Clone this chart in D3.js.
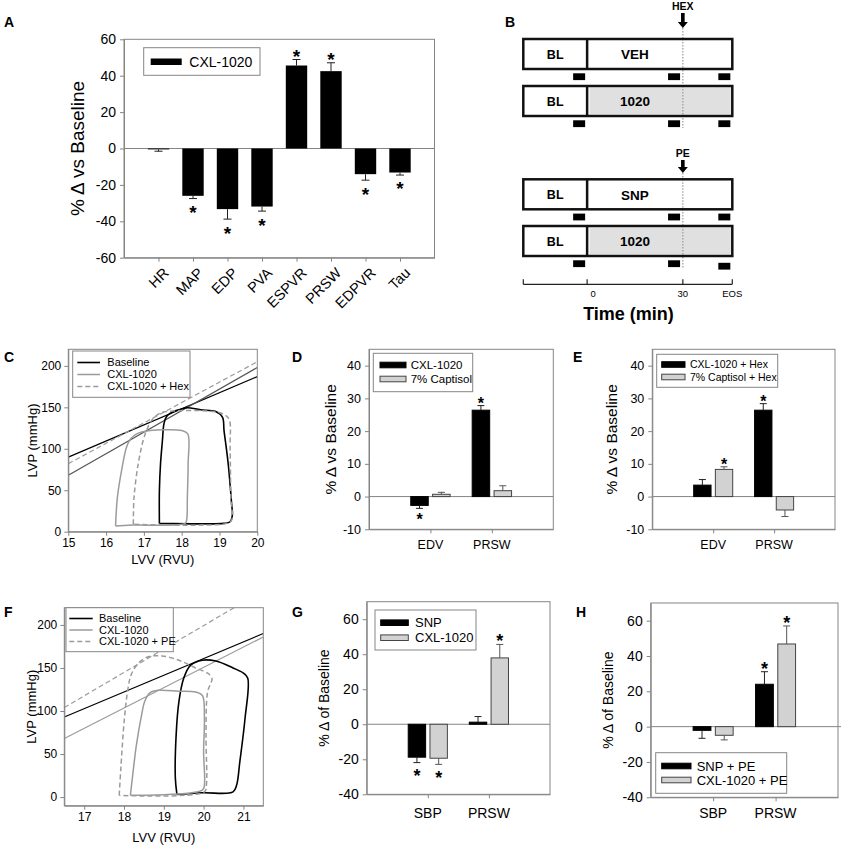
<!DOCTYPE html>
<html><head><meta charset="utf-8">
<script src="https://cdn.jsdelivr.net/npm/d3@7"></script>
<style>
body{margin:0;background:#fff;}
svg{display:block;font-family:"Liberation Sans",Arial,sans-serif;}
</style></head><body>
<svg id="fig" width="844" height="847"></svg>
<script>
// ================= DATA =================
// Panel A
const aCategories = ["HR","MAP","EDP","PVA","ESPVR","PRSW","EDPVR","Tau"];
const aSeries = ["CXL-1020"];
const aValues = [-0.5,-26.0,-33.3,-31.9,45.6,42.5,-14.1,-13.2];
const aErrors = [1.0,1.5,5.5,2.5,3.3,4.6,3.3,1.4];
const aSignificant = [false,true,true,true,true,true,true,true];
const aYTicks = [-60,-40,-20,0,20,40,60];

// Panel B (protocol schematic)
const bRowBaseline = ["BL","BL","BL","BL"];
const bRowTreatment = ["VEH","1020","SNP","1020"];
const bRowFilled = [false,true,false,true];
const bSampleTimes = [-2.5,27.25,43];
const bEventLabels = ["HEX","PE"];
const bEventTime = 30;
const bTickTimes = [-20,0,30,45.5];
const bTickLabels = ["","0","30","EOS"];

// Panel C (PV loops)
const cSeries = ["Baseline","CXL-1020","CXL-1020 + Hex"];
const cLoopBaseline = [[17.41,10],[17.41,50],[17.44,82],[17.49,110],[17.53,130],[17.6,139],[17.78,145],[18.0,148],[18.15,149.5],[18.5,147],[18.9,145],[19.08,138],[19.12,122],[19.23,82],[19.32,34],[19.34,20],[19.28,12],[19.1,10],[18.5,9.5],[17.41,10]];
const cLoopCxl = [[16.25,7],[16.3,42],[16.41,74],[16.54,102],[16.65,112],[16.81,118],[17.16,122],[17.6,123],[18.0,122],[18.16,118],[18.17,82],[18.15,42],[18.13,14],[18.09,10],[16.72,8],[16.25,7]];
const cLoopHex = [[16.72,9],[16.74,42],[16.85,82],[16.98,110],[17.07,122],[17.2,134],[17.43,143],[17.6,145],[18.84,145],[19.14,141],[19.26,135],[19.28,102],[19.3,42],[19.32,14],[19.19,10],[16.72,9]];
const cEspvrBaseline = [[15,90],[20,187]];
const cEspvrCxl = [[15,68],[20,198]];
const cEspvrHex = [[15,82],[20,205]];
const cXTicks = [15,16,17,18,19,20];
const cYTicks = [0,50,100,150,200];

// Panel D
const dCategories = ["EDV","PRSW"];
const dSeries = ["CXL-1020","7% Captisol"];
const dValues = [[-2.7,0.7],[26.4,1.8]];
const dErrors = [[0.9,0.6],[1.4,1.5]];
const dSignificant = [[true,false],[true,false]];
const dYTicks = [-10,0,10,20,30,40];

// Panel E
const eCategories = ["EDV","PRSW"];
const eSeries = ["CXL-1020 + Hex","7% Captisol + Hex"];
const eValues = [[3.5,8.3],[26.4,-4.1]];
const eErrors = [[1.7,0.8],[2.0,2.0]];
const eSignificant = [[false,true],[true,false]];
const eYTicks = [-10,0,10,20,30,40];

// Panel F (PV loops)
const fSeries = ["Baseline","CXL-1020","CXL-1020 + PE"];
const fLoopBaseline = [[19.33,3],[19.29,22],[19.31,72],[19.38,111],[19.5,138],[19.67,153],[19.97,159],[20.31,158],[20.74,150],[21.0,144],[21.11,138],[21.04,91],[20.91,41],[20.83,14],[20.74,6],[19.97,5],[19.33,3]];
const fLoopCxl = [[18.16,2],[18.22,26],[18.31,60],[18.44,95],[18.52,111],[18.65,121],[18.86,124],[19.38,123],[19.8,122],[19.97,118],[20.02,91],[20.0,53],[20.02,14],[19.97,8],[18.16,2]];
const fLoopPe = [[17.88,2],[17.92,33],[18.01,91],[18.1,126],[18.18,142],[18.35,155],[18.61,163],[18.95,164],[19.38,159],[19.8,150],[20.1,144],[20.21,138],[20.1,122],[20.06,72],[20.07,14],[20.02,6],[17.88,2]];
const fEspvrBaseline = [[16.5,93],[21.5,190]];
const fEspvrCxl = [[16.5,68],[21.5,186]];
const fEspvrPe = [[16.5,104],[21.5,240]];
const fXTicks = [17,18,19,20,21];
const fYTicks = [0,50,100,150,200];

// Panel G
const gCategories = ["SBP","PRSW"];
const gSeries = ["SNP","CXL-1020"];
const gValues = [[-18.8,-19.4],[1.2,37.9]];
const gErrors = [[3.1,3.5],[3.2,7.7]];
const gSignificant = [[true,true],[false,true]];
const gYTicks = [-40,-20,0,20,40,60];

// Panel H
const hCategories = ["SBP","PRSW"];
const hSeries = ["SNP + PE","CXL-1020 + PE"];
const hValues = [[-2.1,-4.9],[24.0,46.8]];
const hErrors = [[4.5,2.6],[7.1,10.2]];
const hSignificant = [[false,false],[true,true]];
const hYTicks = [-40,-20,0,20,40,60];

// ================= DRAWING =================
const FONT = '"Liberation Sans", Arial, sans-serif';
const FRAME = "#858585";
const GRAYFILL = "#d2d2d2";
const svg = d3.select("#fig");
svg.append("rect").attr("width",844).attr("height",847).attr("fill","#fff");

function panelLabel(t,x,y){
  svg.append("text").attr("x",x).attr("y",y).attr("font-weight","bold")
    .attr("font-size",14).text(t);
}
function styleAxis(sel, fs){
  sel.attr("font-family",FONT);
  sel.select(".domain").attr("stroke",FRAME);
  sel.selectAll(".tick line").attr("stroke",FRAME);
  sel.selectAll(".tick text").attr("font-size",fs).attr("fill","#000");
}
function asterisk(g,x,yc,size){
  g.append("text").attr("x",x).attr("y",yc+size*0.6).attr("text-anchor","middle")
    .attr("font-size",size).attr("font-weight","bold").text("*");
}
function yLabel(g,text,x,yc,fs){
  g.append("text").attr("transform",`translate(${x},${yc}) rotate(-90)`)
    .attr("text-anchor","middle").attr("dy","0.35em").attr("font-size",fs).text(text);
}

// ---------- Panel A ----------
(function(){
  const L=124,R=434.5,T=39.3,B=257.7;
  const x = d3.scaleLinear().domain([0,aCategories.length+1]).range([L,R]);
  const y = d3.scaleLinear().domain([-60,60]).range([B,T]);
  const g = svg.append("g");
  const step = x(1)-x(0), bw = step*0.62;
  g.append("line").attr("x1",L).attr("x2",R).attr("y1",y(0)).attr("y2",y(0)).attr("stroke",FRAME);
  aValues.forEach((v,i)=>{
    const cx = x(i+1);
    g.append("rect").attr("x",cx-bw/2).attr("width",bw)
      .attr("y",Math.min(y(v),y(0))).attr("height",Math.abs(y(v)-y(0))).attr("fill","#000");
    const s = v>=0?1:-1, ye = y(v+s*aErrors[i]);
    g.append("line").attr("x1",cx).attr("x2",cx).attr("y1",y(v)).attr("y2",ye).attr("stroke","#222");
    g.append("line").attr("x1",cx-4).attr("x2",cx+4).attr("y1",ye).attr("y2",ye).attr("stroke","#222");
    if(aSignificant[i]) asterisk(g,cx, s>0? ye-8 : ye+9, 19);
  });
  const ya = g.append("g").attr("transform",`translate(${L},0)`)
    .call(d3.axisLeft(y).tickValues(aYTicks).tickSize(4).tickPadding(4).tickSizeOuter(0).tickFormat(d=>d));
  styleAxis(ya,14);
  const xa = g.append("g").attr("transform",`translate(0,${B})`)
    .call(d3.axisBottom(x).tickValues(d3.range(1,aCategories.length+1)).tickSize(4).tickSizeOuter(0).tickFormat(""));
  styleAxis(xa,14);
  aCategories.forEach((c,i)=>{
    g.append("text").attr("transform",`translate(${x(i+1)+4},${B+9}) rotate(-45)`)
      .attr("text-anchor","end").attr("dy","0.7em").attr("font-size",14.5).text(c);
  });
  g.append("rect").attr("x",L).attr("y",T).attr("width",R-L).attr("height",B-T).attr("fill","none").attr("stroke",FRAME);
  yLabel(g,"% Δ vs Baseline",77,(T+B)/2,19);
  g.append("rect").attr("x",143.7).attr("y",47.7).attr("width",116.3).attr("height",27.6).attr("fill","#fff").attr("stroke",FRAME);
  g.append("rect").attr("x",150.7).attr("y",58.5).attr("width",31).attr("height",6.5).attr("fill","#000");
  g.append("text").attr("x",189.3).attr("y",61.8).attr("dy","0.35em").attr("font-size",14).text(aSeries[0]);
  panelLabel("A",4,27);
})();

// ---------- Panel B ----------
(function(){
  const x = d3.scaleLinear().domain([-20,45.5]).range([523.3,732.3]);
  const g = svg.append("g");
  const rowTops = [39,86,179.3,226], H = 30;
  const eventRows = [[0,1],[2,3]];
  const eventArrow = [[13,28],[160,173]];
  eventRows.forEach((rows,k)=>{
    const xe = x(bEventTime);
    g.append("line").attr("x1",xe).attr("x2",xe).attr("y1",eventArrow[k][1]).attr("y2",rowTops[rows[1]]+42)
      .attr("stroke","#9a9a9a").attr("stroke-width",1.2).attr("stroke-dasharray","1.5,1.5");
  });
  rowTops.forEach((t,i)=>{
    g.append("rect").attr("x",x(-20)).attr("y",t).attr("width",x(45.5)-x(-20)).attr("height",H)
      .attr("fill","#fff");
    if(bRowFilled[i]) g.append("rect").attr("x",x(0)+2.5).attr("y",t+1.5).attr("width",x(45.5)-x(0)-4).attr("height",H-3).attr("fill","#e0e0e0");
    g.append("line").attr("x1",x(bEventTime)).attr("x2",x(bEventTime)).attr("y1",t).attr("y2",t+H)
      .attr("stroke","#9a9a9a").attr("stroke-width",1.2).attr("stroke-dasharray","1.5,1.5");
    g.append("rect").attr("x",x(-20)).attr("y",t).attr("width",x(45.5)-x(-20)).attr("height",H)
      .attr("fill","none").attr("stroke","#111").attr("stroke-width",2.5);
    g.append("line").attr("x1",x(0)).attr("x2",x(0)).attr("y1",t).attr("y2",t+H).attr("stroke","#111").attr("stroke-width",2.5);
    g.append("text").attr("x",(x(-20)+x(0))/2).attr("y",t+H/2).attr("dy","0.36em").attr("text-anchor","middle")
      .attr("font-weight","bold").attr("font-size",12.5).text(bRowBaseline[i]);
    g.append("text").attr("x",(x(0)+x(30))/2).attr("y",t+H/2+0.5).attr("dy","0.36em").attr("text-anchor","middle")
      .attr("font-weight","bold").attr("font-size",13.5).text(bRowTreatment[i]);
    bSampleTimes.forEach((s,j)=>{
      const extra = (i===3 && j===2)?2.5:0;
      g.append("rect").attr("x",x(s)-6).attr("y",t+34.3+extra).attr("width",12).attr("height",6.8).attr("fill","#000");
    });
  });
  bEventLabels.forEach((lab,k)=>{
    const xe = x(bEventTime), [a0,a1] = eventArrow[k];
    g.append("text").attr("x",xe).attr("y",a0-3).attr("text-anchor","middle").attr("font-weight","bold").attr("font-size",10.5).text(lab);
    g.append("path").attr("d",`M${xe-1.8},${a0} L${xe+1.8},${a0} L${xe+1.8},${a1-6} L${xe+5},${a1-6} L${xe},${a1} L${xe-5},${a1-6} L${xe-1.8},${a1-6} Z`).attr("fill","#000");
  });
  const ay = 284.3;
  g.append("line").attr("x1",x(-20)).attr("x2",x(45.5)).attr("y1",ay).attr("y2",ay).attr("stroke","#222").attr("stroke-width",1.2);
  bTickTimes.forEach((t,i)=>{
    g.append("line").attr("x1",x(t)).attr("x2",x(t)).attr("y1",ay).attr("y2",ay-5).attr("stroke","#222").attr("stroke-width",1.2);
    g.append("text").attr("x",x(t)+(t===0?6:0)).attr("y",297).attr("text-anchor","middle").attr("font-size",9.5).text(bTickLabels[i]);
  });
  g.append("text").attr("x",628.5).attr("y",320).attr("text-anchor","middle").attr("font-weight","bold").attr("font-size",18).text("Time (min)");
  panelLabel("B",505,27);
})();

// ---------- PV loop panels ----------
function pvPanel(cfg){
  const x = d3.scaleLinear().domain(cfg.xDomain).range([cfg.L,cfg.R]);
  const y = d3.scaleLinear().domain(cfg.yDomain).range([cfg.B,cfg.T]);
  const g = svg.append("g");
  svg.append("clipPath").attr("id","clip"+cfg.id).append("rect")
    .attr("x",cfg.L).attr("y",cfg.T).attr("width",cfg.R-cfg.L).attr("height",cfg.B-cfg.T);
  const inner = g.append("g").attr("clip-path",`url(#clip${cfg.id})`);
  const line = d3.line().x(d=>x(d[0])).y(d=>y(d[1]));
  const loopLine = d3.line().x(d=>x(d[0])).y(d=>y(d[1])).curve(d3.curveCatmullRom.alpha(0.5));
  cfg.espvr.forEach((pts,i)=>{
    const st = cfg.espvrStyles[i];
    inner.append("path").attr("d",line(pts)).attr("fill","none").attr("stroke",st.stroke)
      .attr("stroke-width",1.2).attr("stroke-dasharray",st.dash);
  });
  cfg.loops.forEach((pts,i)=>{
    const st = cfg.styles[i];
    inner.append("path").attr("d",loopLine(pts)).attr("fill","none").attr("stroke",st.stroke)
      .attr("stroke-width",st.width).attr("stroke-dasharray",st.dash).attr("stroke-linejoin","round");
  });
  const xa = g.append("g").attr("transform",`translate(0,${cfg.B})`)
    .call(d3.axisBottom(x).tickValues(cfg.xTicks).tickSize(4).tickPadding(3).tickSizeOuter(0).tickFormat(d=>d));
  styleAxis(xa,12);
  const ya = g.append("g").attr("transform",`translate(${cfg.L},0)`)
    .call(d3.axisLeft(y).tickValues(cfg.yTicks).tickSize(4).tickPadding(3).tickSizeOuter(0).tickFormat(d=>d));
  styleAxis(ya,12);
  g.append("rect").attr("x",cfg.L).attr("y",cfg.T).attr("width",cfg.R-cfg.L).attr("height",cfg.B-cfg.T).attr("fill","none").attr("stroke",FRAME);
  const lg = cfg.legend;
  g.append("rect").attr("x",lg.x).attr("y",lg.y).attr("width",lg.w).attr("height",lg.h).attr("fill","#fff").attr("stroke",FRAME);
  cfg.series.forEach((s,i)=>{
    const st = cfg.styles[i], yy = lg.rows[i];
    g.append("line").attr("x1",lg.lx0).attr("x2",lg.lx1).attr("y1",yy).attr("y2",yy)
      .attr("stroke",st.stroke).attr("stroke-width",st.width).attr("stroke-dasharray",st.dash);
    g.append("text").attr("x",lg.tx).attr("y",yy).attr("dy","0.35em").attr("font-size",11).text(s);
  });
  yLabel(g,"LVP (mmHg)",cfg.ylx,(cfg.T+cfg.B)/2,13);
  g.append("text").attr("x",(cfg.L+cfg.R)/2).attr("y",cfg.xly).attr("text-anchor","middle").attr("font-size",13).text("LVV (RVU)");
}
const loopStyles = [
  {stroke:"#000",width:1.6,dash:null},
  {stroke:"#9b9b9b",width:1.5,dash:null},
  {stroke:"#9b9b9b",width:1.5,dash:"5,3"}
];
pvPanel({id:"C",L:68.3,R:257.3,T:349.3,B:531.7,xDomain:[15,20],yDomain:[0,220],
  xTicks:cXTicks,yTicks:cYTicks,series:cSeries,styles:loopStyles,
  loops:[cLoopBaseline,cLoopCxl,cLoopHex],
  espvr:[cEspvrBaseline,cEspvrCxl,cEspvrHex],
  espvrStyles:[{stroke:"#000",dash:null},{stroke:"#555",dash:null},{stroke:"#9b9b9b",dash:"5,3"}],
  legend:{x:72.7,y:351,w:117.3,h:46.3,rows:[362.5,374.5,386.5],lx0:77.3,lx1:100,tx:107.3},
  ylx:32,xly:564});
panelLabel("C",4,362);
pvPanel({id:"F",L:64.3,R:263.3,T:607.7,B:805.7,xDomain:[16.5,21.5],yDomain:[-10,220],
  xTicks:fXTicks,yTicks:fYTicks,series:fSeries,styles:loopStyles,
  loops:[fLoopBaseline,fLoopCxl,fLoopPe],
  espvr:[fEspvrBaseline,fEspvrCxl,fEspvrPe],
  espvrStyles:[{stroke:"#000",dash:null},{stroke:"#9b9b9b",dash:null},{stroke:"#9b9b9b",dash:"5,3"}],
  legend:{x:66,y:607.7,w:107.3,h:44,rows:[618.5,630,641.5],lx0:69.3,lx1:92.7,tx:99},
  ylx:31,xly:842});
panelLabel("F",4,617);

// ---------- Grouped bar panels ----------
function groupedPanel(cfg){
  const x = d3.scaleLinear().domain([0,cfg.cats.length+1]).range([cfg.L,cfg.R]);
  const y = d3.scaleLinear().domain(cfg.yDomain).range([cfg.B,cfg.T]);
  const g = svg.append("g");
  const step = x(1)-x(0), bw = step*0.285, off = step*0.178;
  const fills = ["#000",GRAYFILL];
  g.append("line").attr("x1",cfg.L).attr("x2",cfg.zeroR||cfg.R).attr("y1",y(0)).attr("y2",y(0)).attr("stroke",FRAME);
  cfg.values.forEach((row,i)=>{
    row.forEach((v,j)=>{
      const cx = x(i+1) + (j===0?-off:off);
      g.append("rect").attr("x",cx-bw/2).attr("width",bw)
        .attr("y",Math.min(y(v),y(0))).attr("height",Math.abs(y(v)-y(0)))
        .attr("fill",fills[j]).attr("stroke",j===0?"#000":"#444").attr("stroke-width",1);
      const s = v>=0?1:-1, ye = y(v+s*cfg.errors[i][j]);
      const ec = j===0?"#222":"#555";
      g.append("line").attr("x1",cx).attr("x2",cx).attr("y1",y(v)).attr("y2",ye).attr("stroke",ec);
      g.append("line").attr("x1",cx-3.5).attr("x2",cx+3.5).attr("y1",ye).attr("y2",ye).attr("stroke",ec);
      if(cfg.sig[i][j]) asterisk(g,cx, s>0? ye-cfg.astGap : ye+cfg.astGap+1, cfg.astSize);
    });
  });
  const ya = g.append("g").attr("transform",`translate(${cfg.L},0)`)
    .call(d3.axisLeft(y).tickValues(cfg.yTicks).tickSize(4).tickPadding(4).tickSizeOuter(0).tickFormat(d=>d));
  styleAxis(ya,cfg.tickFs);
  const xa = g.append("g").attr("transform",`translate(0,${cfg.B})`)
    .call(d3.axisBottom(x).tickValues(d3.range(1,cfg.cats.length+1)).tickSize(4).tickSizeOuter(0).tickFormat(""));
  styleAxis(xa,cfg.tickFs);
  cfg.cats.forEach((c,i)=>{
    g.append("text").attr("x",x(i+1)).attr("y",cfg.xly).attr("text-anchor","middle").attr("font-size",cfg.catFs).text(c);
  });
  g.append("rect").attr("x",cfg.L).attr("y",cfg.T).attr("width",cfg.R-cfg.L).attr("height",cfg.B-cfg.T).attr("fill","none").attr("stroke",FRAME);
  yLabel(g,cfg.ylabel,cfg.ylx,(cfg.T+cfg.B)/2,cfg.ylFs);
  const lg = cfg.legend;
  g.append("rect").attr("x",lg.x).attr("y",lg.y).attr("width",lg.w).attr("height",lg.h).attr("fill","#fff").attr("stroke",FRAME);
  cfg.series.forEach((s,j)=>{
    g.append("rect").attr("x",lg.sx0).attr("y",lg.rows[j]-2.8).attr("width",lg.sx1-lg.sx0).attr("height",5.6)
      .attr("fill",fills[j]).attr("stroke",j===0?"#000":"#444");
    g.append("text").attr("x",lg.tx).attr("y",lg.rows[j]).attr("dy","0.35em").attr("font-size",lg.fs).text(s);
  });
}
groupedPanel({L:369,R:553.3,T:349.3,B:529.3,yDomain:[-10,45],yTicks:dYTicks,
  cats:dCategories,series:dSeries,values:dValues,errors:dErrors,sig:dSignificant,
  tickFs:12.5,catFs:12.5,xly:549,ylabel:"% Δ vs Baseline",ylx:331,ylFs:15.5,astSize:16,astGap:6,
  legend:{x:373.3,y:353.3,w:99.4,h:38.4,rows:[365,379],sx0:380,sx1:406,tx:410.7,fs:11.5}});
panelLabel("D",292,362);
groupedPanel({L:652.3,R:835,T:349.3,B:529.3,yDomain:[-10,45],yTicks:eYTicks,
  cats:eCategories,series:eSeries,values:eValues,errors:eErrors,sig:eSignificant,
  tickFs:12.5,catFs:12.5,xly:549,ylabel:"% Δ vs Baseline",ylx:612,ylFs:15.5,astSize:16,astGap:6,
  legend:{x:656.7,y:354.3,w:121,h:33,rows:[364.5,377],sx0:661.7,sx1:685,tx:690,fs:10.5}});
panelLabel("E",573,362);
groupedPanel({L:366.7,R:550,T:601.7,B:794.3,yDomain:[-40,70],yTicks:gYTicks,
  cats:gCategories,series:gSeries,values:gValues,errors:gErrors,sig:gSignificant,
  tickFs:14,catFs:14,xly:818,ylabel:"% Δ of Baseline",ylx:324,ylFs:14,astSize:18,astGap:8,
  legend:{x:375,y:610,w:101,h:40,rows:[622.7,637.7],sx0:380.7,sx1:408.3,tx:415,fs:13}});
panelLabel("G",292,617);
groupedPanel({L:650.7,R:838,T:603,B:797.3,yDomain:[-40,70],yTicks:hYTicks,zeroR:841,
  cats:hCategories,series:hSeries,values:hValues,errors:hErrors,sig:hSignificant,
  tickFs:14,catFs:14,xly:818,ylabel:"% Δ of Baseline",ylx:608,ylFs:14,astSize:18,astGap:8,
  legend:{x:655.7,y:752.7,w:131,h:40.6,rows:[766,780],sx0:661.7,sx1:691,tx:696.7,fs:13}});
panelLabel("H",576,617);
</script>
</body></html>
